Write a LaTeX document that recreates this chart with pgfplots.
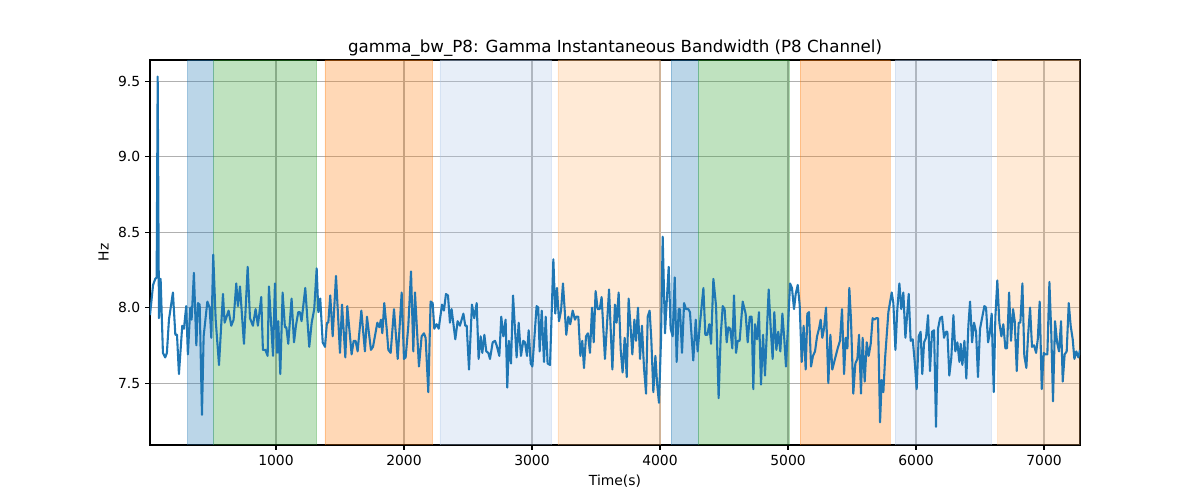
\documentclass[border=0pt]{standalone}
\usepackage{fontspec}
\setmainfont{DejaVu Sans}
\usepackage{pgfplots}
\pgfplotsset{compat=1.18}
\definecolor{tabblue}{HTML}{1F77B4}
\definecolor{tabgreen}{HTML}{2CA02C}
\definecolor{taborange}{HTML}{FF7F0E}
\definecolor{lightblue}{HTML}{AEC7E8}
\definecolor{lightorange}{HTML}{FFBB78}
\definecolor{gridgray}{HTML}{B0B0B0}
\begin{document}
\begin{tikzpicture}
\begin{axis}[
  name=ax,
  scale only axis,
  width=669.6pt, height=277.2pt,
  xmin=16, xmax=7281, ymin=7.09, ymax=9.64,
  xtick={1000,2000,3000,4000,5000,6000,7000},
  ytick={7.5,8.0,8.5,9.0,9.5},
  yticklabel style={/pgf/number format/.cd, fixed, fixed zerofill, precision=1},
  xticklabel style={/pgf/number format/1000 sep={}},
  /pgf/number format/assume math mode=true,
  tick label style={font=\fontsize{10}{12}\selectfont},
  label style={font=\fontsize{10}{12}\selectfont},
  title style={at={(0.5,1)}, anchor=base, yshift=-0.5pt, font=\fontsize{12}{14}\selectfont},
  title={gamma\_bw\_P8: Gamma Instantaneous Bandwidth (P8 Channel)},
  xlabel={Time(s)}, ylabel={Hz},
  grid=major,
  major grid style={gridgray, line width=0.8pt},
  axis line style={black, line width=0.8pt},
  tick align=outside, major tick length=3.5pt,
  tick style={black, line width=0.8pt},
  xtick pos=bottom, ytick pos=left,
  axis on top=false,
]
% shaded spans
\addplot[draw=tabblue, draw opacity=0.3, fill=tabblue, fill opacity=0.3] coordinates {(307,7.09) (513,7.09) (513,9.64) (307,9.64)} \closedcycle;
\addplot[draw=tabgreen, draw opacity=0.3, fill=tabgreen, fill opacity=0.3] coordinates {(513,7.09) (1318,7.09) (1318,9.64) (513,9.64)} \closedcycle;
\addplot[draw=taborange, draw opacity=0.3, fill=taborange, fill opacity=0.3] coordinates {(1383,7.09) (2224,7.09) (2224,9.64) (1383,9.64)} \closedcycle;
\addplot[draw=lightblue, draw opacity=0.3, fill=lightblue, fill opacity=0.3] coordinates {(2281,7.09) (3154,7.09) (3154,9.64) (2281,9.64)} \closedcycle;
\addplot[draw=lightorange, draw opacity=0.3, fill=lightorange, fill opacity=0.3] coordinates {(3203,7.09) (4005,7.09) (4005,9.64) (3203,9.64)} \closedcycle;
\addplot[draw=tabblue, draw opacity=0.3, fill=tabblue, fill opacity=0.3] coordinates {(4086,7.09) (4299,7.09) (4299,9.64) (4086,9.64)} \closedcycle;
\addplot[draw=tabgreen, draw opacity=0.3, fill=tabgreen, fill opacity=0.3] coordinates {(4299,7.09) (5010,7.09) (5010,9.64) (4299,9.64)} \closedcycle;
\addplot[draw=taborange, draw opacity=0.3, fill=taborange, fill opacity=0.3] coordinates {(5094,7.09) (5797,7.09) (5797,9.64) (5094,9.64)} \closedcycle;
\addplot[draw=lightblue, draw opacity=0.3, fill=lightblue, fill opacity=0.3] coordinates {(5836,7.09) (6591,7.09) (6591,9.64) (5836,9.64)} \closedcycle;
\addplot[draw=lightorange, draw opacity=0.3, fill=lightorange, fill opacity=0.3] coordinates {(6638,7.09) (7290,7.09) (7290,9.64) (6638,9.64)} \closedcycle;
% signal
\addplot[tabblue, line width=1.5pt, line join=round, mark=none] coordinates {
(16,7.95) (40,8.15) (57,8.19) (68,8.20) (76,9.53) (86,7.93) (99,8.19) (117,7.70) (135,7.67) (148,7.70)
(164,7.92) (195,8.10) (214,7.82) (227,7.82) (242,7.56) (268,7.88) (281,7.86) (299,8.01) (312,7.69) (331,8.00)
(341,7.92) (359,8.23) (378,7.75) (391,8.03) (404,8.02) (422,7.29) (435,7.81) (464,8.04) (482,8.00) (495,7.80)
(510,8.35) (529,7.92) (555,7.62) (586,8.09) (599,7.90) (630,7.98) (651,7.88) (669,7.92) (690,8.16) (703,8.01)
(719,8.14) (750,7.76) (779,8.27) (797,7.93) (820,7.88) (841,7.99) (859,7.88) (885,8.07) (898,7.72) (917,7.72)
(935,7.68) (945,8.14) (977,7.68) (992,8.16) (1008,7.70) (1018,7.91) (1034,7.56) (1052,8.10) (1070,7.87) (1081,7.87)
(1096,7.76) (1122,8.06) (1141,7.77) (1156,7.88) (1174,7.97) (1187,7.97) (1200,7.91) (1229,8.13) (1260,7.74) (1279,7.90)
(1299,7.99) (1318,8.26) (1331,7.97) (1346,8.06) (1365,7.77) (1383,7.74) (1398,7.90) (1409,7.90) (1424,8.08) (1443,7.81)
(1469,8.21) (1500,7.70) (1516,8.02) (1542,7.67) (1557,8.01) (1591,7.69) (1607,7.78) (1622,7.78) (1638,7.71) (1667,7.98)
(1695,7.71) (1711,7.94) (1742,7.72) (1758,7.74) (1792,7.90) (1807,7.87) (1820,7.92) (1831,7.83) (1846,8.03) (1865,7.86)
(1878,7.72) (1896,7.70) (1922,7.99) (1951,7.66) (1982,8.10) (2000,7.66) (2013,7.67) (2034,7.88) (2055,8.24) (2073,7.71)
(2086,8.10) (2117,7.61) (2138,7.81) (2156,7.83) (2169,7.80) (2190,7.44) (2208,8.04) (2224,8.03) (2237,7.86) (2255,7.89)
(2271,7.86) (2297,8.02) (2312,7.98) (2328,8.09) (2344,8.08) (2359,7.90) (2372,7.99) (2401,7.79) (2419,7.91) (2437,7.88)
(2464,7.96) (2479,7.88) (2490,7.88) (2508,7.59) (2531,8.02) (2549,7.93) (2568,8.03) (2583,7.66) (2599,7.81) (2612,7.70)
(2628,7.82) (2643,7.71) (2659,7.70) (2672,7.66) (2693,7.77) (2711,7.78) (2724,7.75) (2745,7.68) (2760,7.94) (2776,7.81)
(2794,7.92) (2807,7.47) (2820,7.78) (2836,7.63) (2852,8.08) (2880,7.67) (2896,7.90) (2914,7.68) (2932,7.78) (2945,7.77)
(2961,7.68) (2974,7.85) (2990,7.63) (3003,7.61) (3018,7.79) (3036,8.01) (3049,8.00) (3060,7.71) (3076,7.98) (3094,7.64)
(3107,7.94) (3122,7.63) (3141,7.62) (3167,8.32) (3182,7.96) (3195,8.13) (3211,7.91) (3227,7.98) (3242,8.16) (3268,7.82)
(3284,7.94) (3299,7.89) (3318,7.98) (3336,7.92) (3346,7.94) (3362,7.94) (3378,7.68) (3393,7.78) (3406,7.60) (3422,7.81)
(3437,7.83) (3453,7.70) (3469,8.00) (3482,7.77) (3497,8.11) (3513,7.99) (3529,7.99) (3544,8.07) (3570,7.66) (3602,8.12)
(3628,7.59) (3648,8.02) (3661,7.90) (3677,8.10) (3693,7.72) (3708,7.57) (3724,7.80) (3740,7.54) (3755,8.06) (3771,7.86)
(3784,7.69) (3800,7.92) (3813,7.78) (3828,8.00) (3844,7.66) (3859,7.88) (3875,7.60) (3891,7.43) (3904,7.94) (3919,7.98)
(3932,7.79) (3948,7.44) (3964,7.68) (3977,7.50) (3992,7.37) (4008,7.79) (4021,8.47) (4039,7.83) (4052,8.03) (4068,8.27)
(4083,7.86) (4099,7.81) (4115,8.20) (4130,7.64) (4146,7.99) (4156,7.99) (4172,7.70) (4188,8.03) (4203,7.99) (4221,7.99)
(4234,7.97) (4260,7.65) (4279,7.92) (4294,7.71) (4313,7.90) (4339,8.13) (4354,7.82) (4370,7.82) (4385,7.89) (4399,7.76)
(4417,8.19) (4438,8.01) (4458,7.40) (4474,7.81) (4490,8.01) (4505,7.99) (4521,7.77) (4534,7.87) (4549,7.86) (4565,7.73)
(4578,8.08) (4594,7.70) (4607,7.78) (4622,7.78) (4646,8.04) (4669,7.96) (4685,7.77) (4701,7.94) (4716,7.94) (4729,7.46)
(4742,7.89) (4758,7.79) (4773,7.97) (4789,7.49) (4805,7.82) (4820,7.55) (4849,8.12) (4865,7.86) (4880,7.66) (4893,7.97)
(4909,7.72) (4924,7.84) (4940,7.71) (4956,7.96) (4971,7.79) (4984,7.61) (5000,7.88) (5016,8.16) (5031,8.13) (5047,7.99)
(5060,8.09) (5076,8.15) (5091,8.02) (5107,7.64) (5122,7.88) (5138,7.59) (5151,7.96) (5164,7.97) (5180,7.61) (5195,7.68)
(5211,7.71) (5227,7.81) (5242,7.86) (5255,7.92) (5268,7.80) (5281,7.86) (5297,8.00) (5315,7.50) (5331,7.82) (5346,7.59)
(5367,7.66) (5388,7.73) (5406,7.78) (5422,7.99) (5438,7.56) (5451,7.80) (5464,7.73) (5479,8.13) (5492,7.92) (5510,7.43)
(5526,7.63) (5542,7.66) (5555,7.82) (5570,7.43) (5583,7.80) (5599,7.51) (5615,7.77) (5630,7.68) (5646,7.76) (5661,7.93)
(5674,7.92) (5688,7.93) (5703,7.93) (5719,7.24) (5732,7.52) (5745,7.44) (5758,7.66) (5784,7.97) (5810,8.10) (5823,8.03)
(5839,7.72) (5854,7.99) (5870,8.16) (5885,7.99) (5901,8.10) (5917,7.80) (5943,8.09) (5958,7.78) (5974,7.79) (5990,7.64)
(6005,7.46) (6021,7.81) (6036,7.84) (6049,7.56) (6063,7.77) (6078,7.80) (6094,7.95) (6109,7.58) (6125,7.84) (6141,7.85)
(6156,7.21) (6172,7.86) (6188,7.93) (6203,7.94) (6219,7.80) (6234,7.84) (6245,7.84) (6260,7.55) (6276,7.67) (6292,7.95)
(6307,7.71) (6323,7.77) (6339,7.64) (6349,7.76) (6362,7.62) (6378,7.78) (6393,7.53) (6409,7.88) (6422,8.04) (6438,7.77)
(6453,7.90) (6469,7.84) (6484,7.54) (6500,7.86) (6518,7.94) (6534,8.01) (6547,8.00) (6563,7.77) (6576,7.83) (6591,7.96)
(6607,7.44) (6620,7.94) (6635,8.18) (6651,7.90) (6667,7.81) (6682,7.89) (6698,7.73) (6711,7.73) (6727,8.10) (6742,7.78)
(6758,7.99) (6771,7.91) (6787,7.58) (6802,7.90) (6815,7.90) (6831,8.16) (6846,7.68) (6862,7.60) (6875,7.81) (6891,8.00)
(6906,7.74) (6922,7.75) (6938,7.70) (6951,7.79) (6966,8.04) (6982,7.46) (6997,7.70) (7010,7.69) (7026,7.69) (7042,8.17)
(7057,7.82) (7070,7.38) (7086,7.91) (7102,7.77) (7117,7.71) (7133,7.91) (7146,7.51) (7161,7.69) (7177,7.71) (7193,8.03)
(7208,7.88) (7224,7.79) (7237,7.66) (7252,7.71) (7268,7.67) (7281,7.72)
};
\end{axis}
\path ([shift={(-108pt,-39.6pt)}]ax.south west) rectangle ([shift={(86.4pt,43.2pt)}]ax.north east);
\end{tikzpicture}
\end{document}
